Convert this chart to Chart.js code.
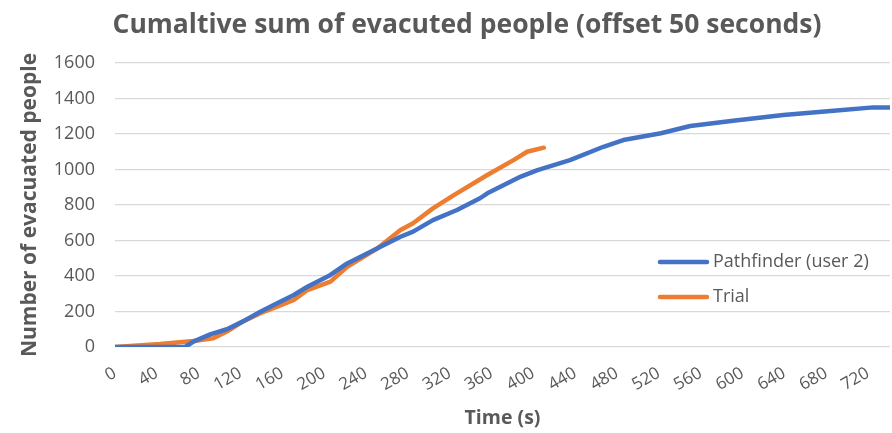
<!DOCTYPE html>
<html>
<head>
<meta charset="utf-8">
<script src="https://cdn.jsdelivr.net/npm/chart.js@4/dist/chart.umd.min.js"></script>
<style>
  html, body { margin: 0; padding: 0; background: #ffffff; }
  #wrap { width: 892px; height: 433px; }
</style>
</head>
<body>
<div id="wrap"><canvas id="c" width="892" height="433"></canvas></div>
<script>
// Elapsed time (s) and cumulative evacuees for each run
const pathfinderTimes = [0, 30, 67, 75, 91, 107, 122, 139, 155, 171, 184, 206, 222, 251, 273, 285, 304, 327, 349, 356, 388, 404, 435, 467, 486, 522, 550, 591, 639, 687, 725, 741];
const pathfinderCounts = [0, 0, 0, 30, 71, 100, 143, 199, 246, 293, 340, 406, 471, 556, 621, 650, 715, 772, 838, 866, 960, 997, 1053, 1128, 1166, 1204, 1245, 1275, 1307, 1331, 1350, 1350];

const trialTimes = [0, 43, 75, 94, 107, 122, 139, 155, 171, 184, 206, 222, 251, 273, 285, 304, 324, 356, 381, 394, 410];
const trialCounts = [0, 17, 34, 49, 87, 143, 190, 227, 265, 321, 368, 452, 556, 659, 697, 781, 856, 969, 1053, 1100, 1123];

// Axis tick labels
const timeTicks = [0, 40, 80, 120, 160, 200, 240, 280, 320, 360, 400, 440, 480, 520, 560, 600, 640, 680, 720];
const countTicks = [0, 200, 400, 600, 800, 1000, 1200, 1400, 1600];

const seriesNames = ['Pathfinder (user 2)', 'Trial'];
const seriesColors = ['#4472C4', '#ED7D31'];
const chartTitle = 'Cumaltive sum of evacuted people (offset 50 seconds)';

const toPoints = (xs, ys) => xs.map((x, i) => ({ x: x, y: ys[i] }));

const textGrey = '#595959';
const gridGrey = '#d9d9d9';
const baseFont = 'Open Sans';

// Chart heading
const heading = {
  id: 'heading',
  afterDraw(chart) {
    const { ctx } = chart;
    ctx.save();
    ctx.font = 'bold 26.5px "' + baseFont + '"';
    ctx.fillStyle = textGrey;
    ctx.textAlign = 'center';
    ctx.textBaseline = 'middle';
    ctx.fillText(chartTitle, 467, 25);
    ctx.restore();
  }
};

// Legend drawn inside the plot area, lower right
const innerLegend = {
  id: 'innerLegend',
  afterDatasetsDraw(chart) {
    const { ctx, chartArea } = chart;
    const x0 = chartArea.right - 230;
    const rows = [chartArea.top + 199, chartArea.top + 234];
    ctx.save();
    ctx.font = '18px "' + baseFont + '"';
    ctx.textBaseline = 'middle';
    ctx.textAlign = 'left';
    chart.data.datasets.forEach((ds, i) => {
      const y = rows[i];
      ctx.strokeStyle = ds.borderColor;
      ctx.lineWidth = 4.5;
      ctx.lineCap = 'round';
      ctx.beginPath();
      ctx.moveTo(x0, y);
      ctx.lineTo(x0 + 47, y);
      ctx.stroke();
      ctx.fillStyle = textGrey;
      ctx.fillText(ds.label, x0 + 53, y);
    });
    ctx.restore();
  }
};

const lineStyle = {
  borderWidth: 4.5,
  pointRadius: 0,
  tension: 0,
  borderCapStyle: 'round',
  borderJoinStyle: 'round'
};

new Chart(document.getElementById('c'), {
  type: 'line',
  data: {
    datasets: [
      Object.assign({
        label: seriesNames[0],
        data: toPoints(pathfinderTimes, pathfinderCounts),
        borderColor: seriesColors[0],
        backgroundColor: seriesColors[0]
      }, lineStyle),
      Object.assign({
        label: seriesNames[1],
        data: toPoints(trialTimes, trialCounts),
        borderColor: seriesColors[1],
        backgroundColor: seriesColors[1]
      }, lineStyle)
    ]
  },
  options: {
    responsive: false,
    animation: false,
    layout: { padding: { left: 8, right: 2, top: 63, bottom: 3 } },
    plugins: {
      legend: { display: false },
      tooltip: { enabled: false },
      title: { display: false }
    },
    scales: {
      x: {
        type: 'linear',
        min: 0,
        max: 741,
        grid: { display: false, drawTicks: false },
        border: { display: false },
        afterBuildTicks: axis => { axis.ticks = timeTicks.map(v => ({ value: v })); },
        afterFit: scale => { scale.height = 83; scale.paddingLeft = 0; scale.paddingRight = 0; },
        ticks: {
          autoSkip: false,
          minRotation: 30,
          maxRotation: 30,
          color: textGrey,
          font: { family: baseFont, size: 17 },
          padding: 16
        },
        title: {
          display: true,
          text: 'Time (s)',
          color: textGrey,
          font: { family: baseFont, size: 19.5, weight: 'bold' },
          padding: { top: 0, bottom: 0 }
        }
      },
      y: {
        min: 0,
        max: 1600,
        grid: { color: gridGrey, lineWidth: 1.3, drawTicks: false },
        border: { display: false },
        afterBuildTicks: axis => { axis.ticks = countTicks.map(v => ({ value: v })); },
        afterFit: scale => { scale.width = 107; scale.paddingTop = 0; scale.paddingBottom = 0; },
        ticks: {
          color: textGrey,
          font: { family: baseFont, size: 18 },
          padding: 20,
          callback: v => String(v)
        },
        title: {
          display: true,
          text: 'Number of evacuated people',
          color: textGrey,
          font: { family: baseFont, size: 21, weight: 'bold' },
          padding: { top: 9, bottom: 0 }
        }
      }
    }
  },
  plugins: [innerLegend, heading]
});
</script>
</body>
</html>
